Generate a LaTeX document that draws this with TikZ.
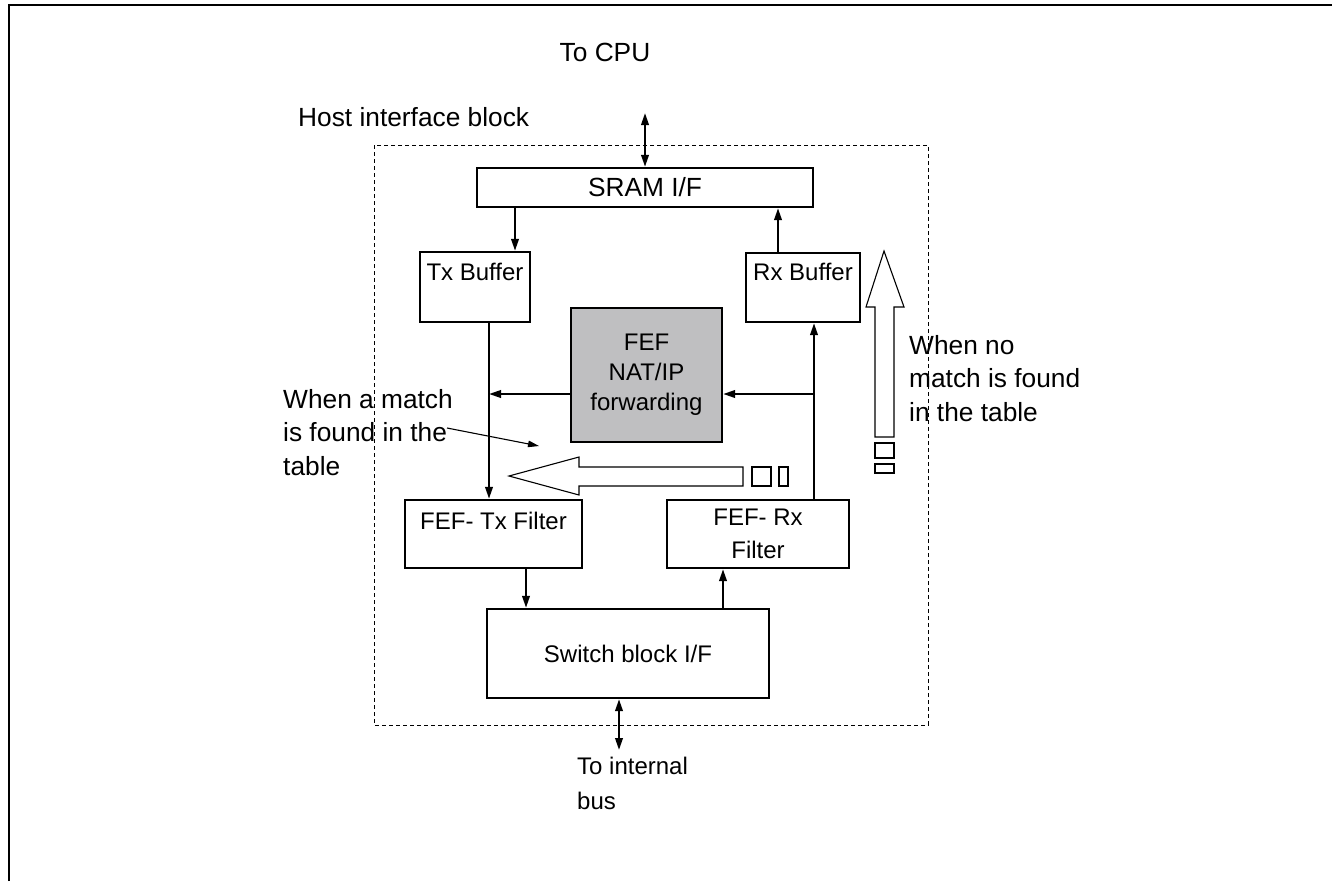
\documentclass[tikz,border=0pt]{standalone}
\usepackage{fontspec}
\setmainfont{Liberation Sans}
\usetikzlibrary{arrows.meta}
\definecolor{fefgrey}{RGB}{191,191,193}
\begin{document}
\begin{tikzpicture}[x=1pt,y=-1pt,
  txt/.style={font=\fontsize{24}{33}\selectfont, inner sep=0pt},
  bigtxt/.style={font=\fontsize{26.3}{33.5}\selectfont, inner sep=0pt},
  box/.style={draw, line width=2.3pt, inner sep=0pt, font=\fontsize{24}{33}\selectfont, align=center},
  toplabel/.style={txt, anchor=north},
  arr/.style={line width=2.2pt, -{Triangle[length=12pt,width=7.5pt]}},
  darr/.style={line width=2.2pt, {Triangle[length=12pt,width=7.5pt]}-{Triangle[length=12pt,width=7.5pt]}},
  thinarr/.style={line width=1.1pt, -{Triangle[length=11pt,width=6.5pt]}},
  hollow/.style={draw, line width=1.1pt, fill=white},
  frame/.style={line width=2.8pt},
  hostbox/.style={draw, line width=1pt, dash pattern=on 4pt off 3pt},
]
\useasboundingbox (0,0) rectangle (1332,881);

% outer frame
\draw[frame] (9,881) -- (9,5) -- (1332,5);

% host interface block (dashed)
\draw[hostbox] (374,145) rectangle (928,725);

% boxes
\node[box, minimum width=336pt, minimum height=39pt,
      font=\fontsize{26.3}{33}\selectfont] (sram) at (645,187.5) {SRAM I/F};
\node[box, minimum width=110pt, minimum height=70pt,
      label={[toplabel, yshift=-12pt]north:Tx Buffer}] (txb) at (475,287) {};
\node[box, minimum width=114pt, minimum height=69pt,
      label={[toplabel, yshift=-11pt]north:Rx Buffer}] (rxb) at (803,287.5) {};
\node[box, fill=fefgrey, minimum width=151pt, minimum height=134pt,
      font=\fontsize{24}{30}\selectfont] (fef) at (646.5,375) {FEF\\NAT/IP\\forwarding};
\node[box, minimum width=177pt, minimum height=68pt,
      label={[toplabel, yshift=-13pt]north:FEF- Tx Filter}] (txf) at (493.5,534) {};
\node[box, minimum width=182pt, minimum height=68pt] (rxf) at (758,534) {FEF- Rx\\Filter};
\node[box, minimum width=282pt, minimum height=89pt] (sw) at (628,653.5) {Switch block I/F};

% free ends
\coordinate (cpuend) at (645,113);
\coordinate (busend) at (619,750);

% texts
\node[bigtxt] (tocpu) at (605,52) {To CPU};
\node[bigtxt, anchor=west] (host) at (298,117) {Host interface block};
\node[bigtxt, anchor=north west, align=left] (nomatch) at (909,335) {When no\\match is found\\in the table};
\node[bigtxt, anchor=north west, align=left] (match) at (283,389) {When a match\\is found in the\\table};
\node[txt, anchor=north west, align=left, font=\fontsize{24}{35}\selectfont] (bus) at (577,757) {To internal\\bus};

% connectors
\draw[darr] (cpuend) -- (sram.north);
\draw[arr] ([xshift=40pt]txb.north |- sram.south) -- ([xshift=40pt]txb.north);
\draw[arr] ([xshift=-25pt]rxb.north) -- ([xshift=-25pt]rxb.north |- sram.south);
\draw[arr] ([xshift=14pt]txb.south) -- ([xshift=14pt]txb.south |- txf.north);
\draw[arr] ([xshift=11pt]rxb.south |- rxf.north) -- ([xshift=11pt]rxb.south);
\coordinate (jr) at (814,394);
\coordinate (jl) at (489,394);
\draw[arr] (jr) -- (jr -| fef.east);
\draw[arr] (jl -| fef.west) -- (jl);
\draw[arr] ([xshift=32.5pt]txf.south) -- ([xshift=32.5pt]txf.south |- sw.north);
\draw[arr] ([xshift=95pt]sw.north) -- ([xshift=95pt]sw.north |- rxf.south);
\draw[darr] ([xshift=-9pt]sw.south) -- (busend);

% pointer from label
\coordinate (ptrs) at (447,428);
\coordinate (ptre) at (539,446);
\draw[thinarr] (ptrs) -- (ptre);

% hollow arrows (match found: to the left)
\draw[hollow] (509,476) -- (579,457) -- (579,467) -- (743,467) -- (743,486) -- (579,486) -- (579,495) -- cycle;
\draw[hollow] (752,467) rectangle (771,486);
\draw[hollow] (779,467) rectangle (788,486);

% hollow arrow (no match: upward)
\draw[hollow] (884,251) -- (904,307) -- (894,307) -- (894,437) -- (875,437) -- (875,307) -- (866,307) -- cycle;
\draw[hollow] (875,443) rectangle (894,458);
\draw[hollow] (875,464) rectangle (894,473);
\end{tikzpicture}
\end{document}
